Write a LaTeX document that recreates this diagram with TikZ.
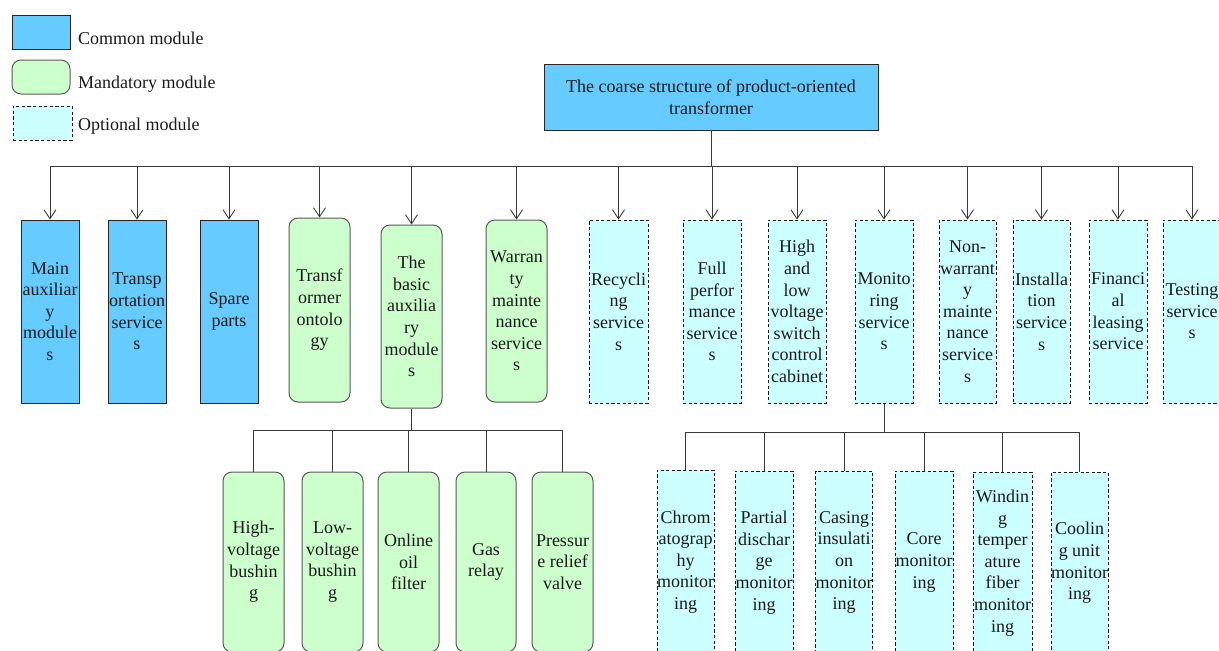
\documentclass[tikz,border=0pt]{standalone}
\usepackage{fontspec}
\setmainfont{Liberation Serif}
\usetikzlibrary{arrows.meta}

\definecolor{cblue}{HTML}{66CCFF}
\definecolor{cgreen}{HTML}{CCFFCC}
\definecolor{ccyan}{HTML}{CCFFFF}
\definecolor{linegray}{HTML}{3A3A3A}

% place a box by its corners: style, name, x1, y1, x2, y2, text
\newcommand\modnode[7]{%
  \node[#1, minimum width={(#5-#3)*1pt}, minimum height={(#6-#4)*1pt}]
    (#2) at ({(#3+#5)/2},{(#4+#6)/2}) {#7};}

\begin{document}
\begin{tikzpicture}[x=1pt, y=-1pt,
  every node/.style={font=\fontsize{18}{21.6}\selectfont, align=center, inner sep=0pt, text=black!90},
  common/.style={draw=black!85, fill=cblue, line width=0.9pt},
  mandatory/.style={draw=black!65, fill=cgreen, line width=1pt, rounded corners=9pt},
  optional/.style={draw=black!90, fill=ccyan, line width=0.9pt, dash pattern=on 3.2pt off 2.4pt},
  legtext/.style={anchor=west},
  link/.style={draw=linegray, line width=0.9pt},
  arr/.style={link, -{Straight Barb[length=9pt, width=12pt, line width=0.9pt]}}]

\useasboundingbox (0,0) rectangle (1219,651);
\clip (0,0) rectangle (1219,651);

% legend
\modnode{common}{lgA}{12}{15}{70}{49}{}
\modnode{mandatory}{lgB}{12}{60}{70}{94}{}
\modnode{optional}{lgC}{13}{106}{72}{140}{}
\node[legtext] (lgAt) at (78,38) {Common module};
\node[legtext] (lgBt) at (78,84) {Mandatory module};
\node[legtext] (lgCt) at (78,126) {Optional module};

% root
\modnode{common}{root}{544}{64}{878}{130}{The coarse structure of product-oriented\\transformer}

% first level
\modnode{common}{m1}{21}{220}{79}{403}{Main\\auxiliar\\y\\module\\s}
\modnode{common}{m2}{108}{220}{166}{403}{Transp\\ortation\\service\\s}
\modnode{common}{m3}{200}{220}{258}{403}{Spare\\parts}
\modnode{mandatory}{m4}{289}{218}{350}{402}{Transf\\ormer\\ontolo\\gy}
\modnode{mandatory}{m5}{381}{225}{442}{408}{The\\basic\\auxilia\\ry\\module\\s}
\modnode{mandatory}{m6}{486}{220}{547}{402}{Warran\\ty\\mainte\\nance\\service\\s}
\modnode{optional}{m7}{589}{220}{648}{403}{Recycli\\ng\\service\\s}
\modnode{optional}{m8}{683}{220}{741}{403}{Full\\perfor\\mance\\service\\s}
\modnode{optional}{m9}{768}{220}{826}{403}{High\\and\\low\\voltage\\switch\\control\\cabinet}
\modnode{optional}{m10}{855}{220}{913}{403}{Monito\\ring\\service\\s}
\modnode{optional}{m11}{939}{220}{996}{403}{Non-\\warrant\\y\\mainte\\nance\\service\\s}
\modnode{optional}{m12}{1013}{220}{1070}{403}{Installa\\tion\\service\\s}
\modnode{optional}{m13}{1089}{220}{1147}{403}{Financi\\al\\leasing\\service}
\modnode{optional}{m14}{1163}{220}{1221}{403}{Testing\\service\\s}

% children of the basic auxiliary modules
\modnode{mandatory}{b1}{223}{472}{284}{652}{High-\\voltage\\bushin\\g}
\modnode{mandatory}{b2}{302}{472}{363}{652}{Low-\\voltage\\bushin\\g}
\modnode{mandatory}{b3}{378}{472}{439}{652}{Online\\oil\\filter}
\modnode{mandatory}{b4}{456}{472}{516}{652}{Gas\\relay}
\modnode{mandatory}{b5}{532}{472}{593}{652}{Pressur\\e relief\\valve}

% children of the monitoring services
\modnode{optional}{c1}{657}{470}{714}{654}{Chrom\\atograp\\hy\\monitor\\ing}
\modnode{optional}{c2}{735}{471}{793}{654}{Partial\\dischar\\ge\\monitor\\ing}
\modnode{optional}{c3}{816}{471}{872}{654}{Casing\\insulati\\on\\monitor\\ing}
\modnode{optional}{c4}{895}{471}{953}{654}{Core\\monitor\\ing}
\modnode{optional}{c5}{973}{472}{1032}{654}{Windin\\g\\temper\\ature\\fiber\\monitor\\ing}
\modnode{optional}{c6}{1051}{472}{1108}{654}{Coolin\\g unit\\monitor\\ing}

% connectors: root to first level
\coordinate (bus) at (710,166);
\draw[link] (root.south) -- (root.south |- bus);
\draw[link] (m1.north |- bus) -- (m14.north |- bus);
\foreach \n in {m1,m2,m3,m4,m5,m6,m7,m8,m9,m10,m11,m12,m13,m14}
  \draw[arr] (\n.north |- bus) -- (\n.north);

% connectors: basic auxiliary modules to its parts
\coordinate (busB) at (412,430);
\draw[link] (m5.south) -- (m5.south |- busB);
\draw[link] (b1.north |- busB) -- (b5.north |- busB);
\foreach \n in {b1,b2,b3,b4,b5}
  \draw[link] (\n.north |- busB) -- (\n.north);

% connectors: monitoring services to its parts
\coordinate (busC) at (878,432);
\draw[link] (m10.south) -- (m10.south |- busC);
\draw[link] (c1.north |- busC) -- (c6.north |- busC);
\foreach \n in {c1,c2,c3,c4,c5,c6}
  \draw[link] (\n.north |- busC) -- (\n.north);

\end{tikzpicture}
\end{document}
